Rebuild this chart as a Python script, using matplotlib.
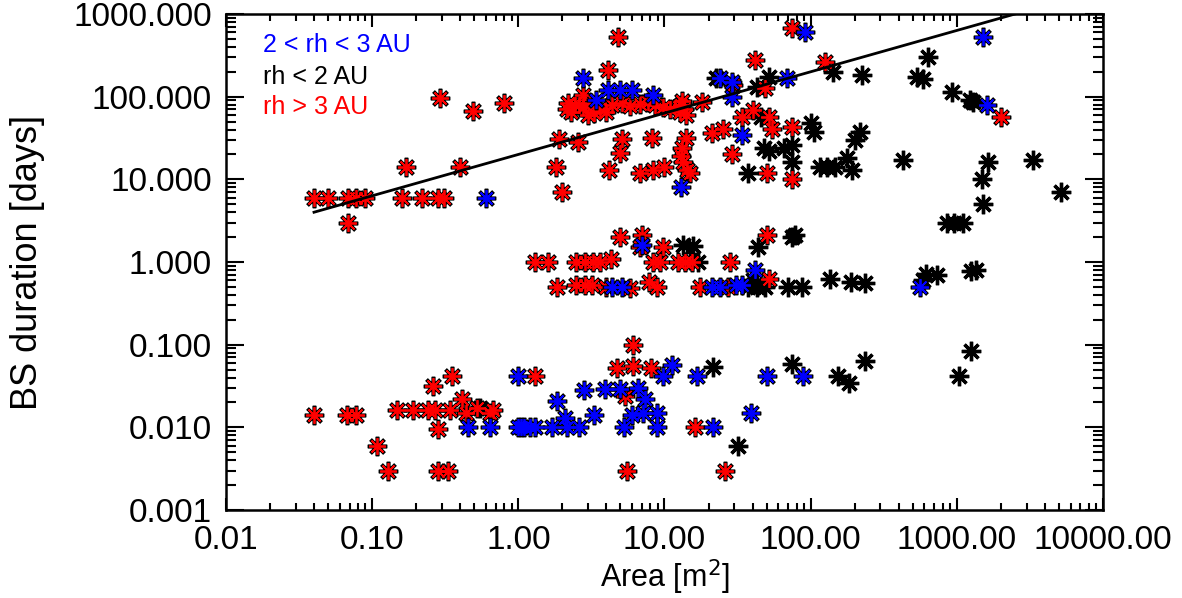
import matplotlib
matplotlib.use("Agg")
import matplotlib.pyplot as plt
import numpy as np
from matplotlib.ticker import FixedLocator, FixedFormatter, LogLocator, NullFormatter

plt.rcParams['font.family'] = ['Liberation Sans', 'DejaVu Sans']

# ---- data: rh > 3 AU (red) ----
red_area = [0.04, 0.05, 0.068, 0.078, 0.09, 0.16, 0.22, 0.28, 0.31,
            0.068, 0.17, 0.4, 0.29, 0.49, 0.8,
            1.8, 1.9, 2.55, 2.0, 4.8, 4.1,
            2.15, 2.44, 2.77, 3.09, 3.6, 4.37, 5.1, 5.8, 6.8, 7.7, 8.6, 9.7, 10.9,
            2.3, 3.3, 2.6, 2.2, 3.0, 4.0, 2.75,
            12.5, 13.0, 13.5, 14.0, 13.2, 12.8, 18.0,
            5.1, 8.2, 5.0, 14.0, 13.2, 12.9, 13.4, 14.2, 15.0,
            4.2, 6.8, 8.3, 10.0,
            21, 25, 34, 40, 29, 29.5, 41.5, 49, 52, 54, 74, 74, 74, 50,
            125, 2000,
            5.0, 7.0, 6.8, 9.8,
            1.3, 1.6, 2.5, 2.85, 3.24, 3.6, 4.3, 8.3, 9.3, 12.4, 13.8, 15.4, 28,
            50,
            1.84, 2.5, 2.85, 3.2, 4.0, 5.8, 7.8, 8.9, 17.5, 27, 52,
            0.04, 0.067, 0.078, 0.108, 0.128, 0.148, 0.19, 0.24, 0.27, 0.34,
            0.26, 0.35, 0.28, 0.28, 0.33, 0.41, 0.44, 0.52, 0.64, 0.67,
            1.3, 6.1, 4.7, 6.1, 8.1, 5.4, 16.1, 5.5, 26]
red_dur = [6, 6, 6, 6, 6, 6, 6, 6, 6,
           3, 14, 14, 96, 67, 84,
           14, 31, 28, 7, 530, 210,
           70, 80, 75, 85, 72, 80, 85, 78, 82, 86, 80, 75, 70,
           65, 64, 80, 85, 60, 66, 104,
           75, 80, 70, 60, 88, 65, 86,
           31, 32, 21, 32, 24, 19, 16, 13, 12,
           13, 12, 13, 14,
           36, 41, 57, 69, 20, 140, 280, 127, 57, 41, 43, 680, 10, 12,
           260, 57,
           2.0, 2.1, 1.5, 1.5,
           1, 1, 1, 1, 1, 1, 1.1, 1, 1, 1, 1, 1, 1,
           2.1,
           0.5, 0.52, 0.52, 0.52, 0.5, 0.48, 0.58, 0.5, 0.5, 0.5, 0.63,
           0.014, 0.014, 0.014, 0.006, 0.003, 0.016, 0.016, 0.016, 0.016, 0.016,
           0.032, 0.042, 0.0095, 0.003, 0.003, 0.022, 0.015, 0.017, 0.015, 0.016,
           0.042, 0.1, 0.052, 0.055, 0.052, 0.024, 0.01, 0.003, 0.003]

# ---- data: 2 < rh < 3 AU (blue) ----
blue_area = [0.6, 2.75, 3.4, 4.1, 5.0, 6.0, 8.3,
             12.9, 24, 29, 29, 34, 69, 91, 1500, 1600,
             7.0, 4.4, 5.1, 21, 24, 31, 34, 41.5, 560,
             0.45, 0.64, 1.0, 1.0, 1.05, 1.1, 1.2, 1.3, 1.7, 2.15, 2.6,
             1.84, 2.1, 2.8, 3.3, 3.9, 5.0, 6.6, 7.3, 6.0, 7.1, 8.9,
             5.3, 8.9, 21.5, 9.8, 11.2, 16.7, 50, 88, 39]
blue_dur = [6, 168, 91, 120, 120, 120, 105,
            8, 168, 150, 100, 34, 168, 610, 525, 79,
            1.6, 0.5, 0.5, 0.5, 0.5, 0.52, 0.52, 0.8, 0.5,
            0.01, 0.01, 0.042, 0.01, 0.01, 0.01, 0.01, 0.01, 0.01, 0.01, 0.01,
            0.021, 0.013, 0.028, 0.014, 0.029, 0.029, 0.03, 0.022, 0.014, 0.015, 0.015,
            0.01, 0.01, 0.01, 0.042, 0.056, 0.042, 0.042, 0.042, 0.015]

# ---- data: rh < 2 AU (black) ----
black_area = [22.5, 52, 43, 46, 48, 52, 66, 75, 74, 37, 100, 105,
              142, 224, 530, 585, 630, 920, 1230, 1300, 217, 200, 177, 193,
              116, 130, 146, 430, 1630, 3300, 1480, 5200, 1500, 850, 950, 1100, 75,
              13.4, 15.7, 15, 17, 43.5, 78, 37, 40, 43, 49, 70, 87, 135, 190, 235,
              620, 730, 590, 1250, 1350,
              0.55, 21.5, 32, 75, 153, 182, 235, 1030, 1250]
black_dur = [170, 172, 130, 57, 24, 22, 24, 26, 16, 12, 48, 37,
             200, 183, 175, 165, 300, 114, 92, 86, 37, 30, 18, 13,
             14, 14, 14, 17, 16, 17, 10, 7, 5, 3, 3, 3, 2,
             1.6, 1.55, 1.05, 1.0, 1.5, 2.1, 0.5, 0.6, 0.5, 0.5, 0.5, 0.5, 0.63, 0.58, 0.56,
             0.72, 0.7, 0.6, 0.78, 0.8,
             0.017, 0.053, 0.006, 0.058, 0.042, 0.034, 0.063, 0.042, 0.085]

# fit line: duration = fit_a * area ** fit_b
fit_a = 20.0
fit_b = 0.5
fit_x = [0.04, 10000.0]

x_ticks = [0.01, 0.1, 1, 10, 100, 1000, 10000]
x_labels = ['0.01', '0.10', '1.00', '10.00', '100.00', '1000.00', '10000.00']
y_ticks = [0.001, 0.01, 0.1, 1, 10, 100, 1000]
y_labels = ['0.001', '0.010', '0.100', '1.000', '10.000', '100.000', '1000.000']

W, H = 1182, 598
fig = plt.figure(figsize=(W / 100, H / 100), dpi=100)
ax = fig.add_axes([226 / W, 1 - 510 / H, 877 / W, 496 / H])
ax.set_xscale('log')
ax.set_yscale('log')
ax.set_xlim(0.01, 10000)
ax.set_ylim(0.001, 1000)

star = (8, 2, 0)
ms = 14

ax.plot(black_area, black_dur, linestyle='none', marker=star, ms=ms,
        mec='black', mew=2.4, zorder=3)
ax.plot(red_area, red_dur, linestyle='none', marker=star, ms=ms,
        mec='black', mew=2.6, zorder=4)
ax.plot(red_area, red_dur, linestyle='none', marker=star, ms=ms - 2,
        mec='#ff0000', mew=1.3, zorder=5)
ax.plot(blue_area, blue_dur, linestyle='none', marker=star, ms=ms,
        mec='black', mew=2.6, zorder=6)
ax.plot(blue_area, blue_dur, linestyle='none', marker=star, ms=ms - 2,
        mec='#0000ff', mew=1.3, zorder=7)

fx = np.logspace(np.log10(fit_x[0]), np.log10(fit_x[1]), 200)
ax.plot(fx, fit_a * fx ** fit_b, color='black', lw=2, zorder=8)

ax.xaxis.set_major_locator(FixedLocator(x_ticks))
ax.xaxis.set_major_formatter(FixedFormatter(x_labels))
ax.yaxis.set_major_locator(FixedLocator(y_ticks))
ax.yaxis.set_major_formatter(FixedFormatter(y_labels))
ax.xaxis.set_minor_locator(LogLocator(base=10, subs=np.arange(2, 10), numticks=20))
ax.yaxis.set_minor_locator(LogLocator(base=10, subs=np.arange(2, 10), numticks=20))
ax.xaxis.set_minor_formatter(NullFormatter())
ax.yaxis.set_minor_formatter(NullFormatter())

ax.tick_params(which='both', direction='in', top=True, right=True, width=1.5)
ax.tick_params(axis='y', which='major', length=13, labelsize=24, pad=10)
ax.tick_params(axis='y', which='minor', length=7)
ax.tick_params(axis='x', which='major', length=9, labelsize=24, pad=11)
ax.tick_params(axis='x', which='minor', length=5)
for s in ax.spines.values():
    s.set_linewidth(1.8)

ax.set_xlabel('Area [m$^2$]', fontsize=22)
ax.xaxis.label.set_va('center')
ax.xaxis.set_label_coords(0.5, (510 - 577) / 496)
ax.set_ylabel('BS duration [days]', fontsize=26)
ax.yaxis.label.set_va('center')
ax.yaxis.set_label_coords((28 - 226) / 877, 0.5)

ax.text(0.042, 0.9375, '2 < rh < 3 AU', color='#0000ff', fontsize=18,
        transform=ax.transAxes, va='center', ha='left')
ax.text(0.042, 0.873, 'rh < 2 AU', color='black', fontsize=18,
        transform=ax.transAxes, va='center', ha='left')
ax.text(0.042, 0.8125, 'rh > 3 AU', color='#ff0000', fontsize=18,
        transform=ax.transAxes, va='center', ha='left')

fig.savefig('out.png', dpi=100)
